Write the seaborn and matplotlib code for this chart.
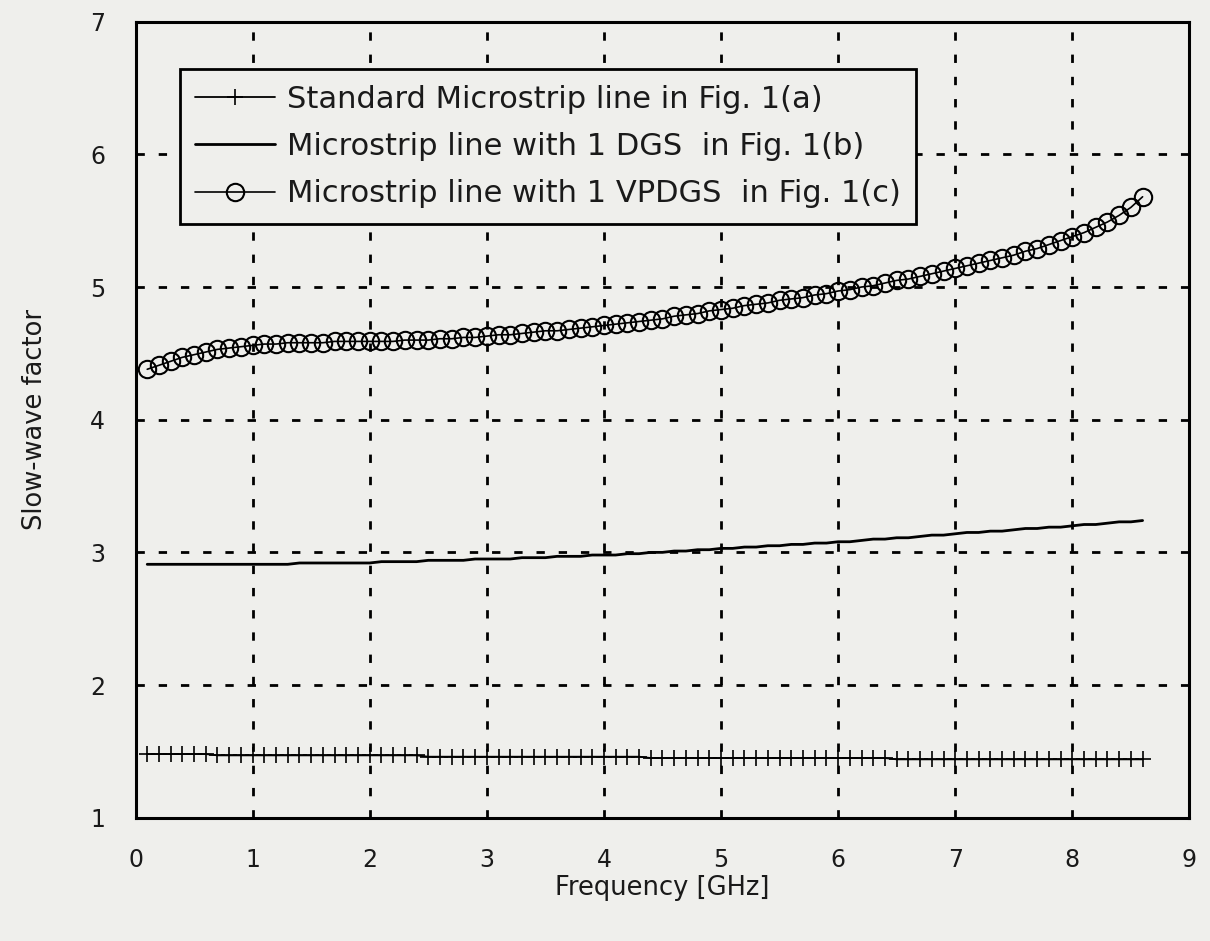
import numpy as np
import pandas as pd
import matplotlib
matplotlib.use("Agg")
import matplotlib.pyplot as plt
import seaborn as sns

# frequency samples [GHz]
freq_ghz = [0.1, 0.2, 0.3, 0.4, 0.5, 0.6, 0.7, 0.8, 0.9, 1.0,
            1.1, 1.2, 1.3, 1.4, 1.5, 1.6, 1.7, 1.8, 1.9, 2.0,
            2.1, 2.2, 2.3, 2.4, 2.5, 2.6, 2.7, 2.8, 2.9, 3.0,
            3.1, 3.2, 3.3, 3.4, 3.5, 3.6, 3.7, 3.8, 3.9, 4.0,
            4.1, 4.2, 4.3, 4.4, 4.5, 4.6, 4.7, 4.8, 4.9, 5.0,
            5.1, 5.2, 5.3, 5.4, 5.5, 5.6, 5.7, 5.8, 5.9, 6.0,
            6.1, 6.2, 6.3, 6.4, 6.5, 6.6, 6.7, 6.8, 6.9, 7.0,
            7.1, 7.2, 7.3, 7.4, 7.5, 7.6, 7.7, 7.8, 7.9, 8.0,
            8.1, 8.2, 8.3, 8.4, 8.5, 8.6]

# slow-wave factor, standard microstrip line (Fig. 1(a))
sw_standard = [1.48, 1.48, 1.48, 1.48, 1.48, 1.48, 1.47, 1.47, 1.47, 1.47,
               1.47, 1.47, 1.47, 1.47, 1.47, 1.47, 1.47, 1.47, 1.47, 1.47,
               1.47, 1.47, 1.47, 1.47, 1.46, 1.46, 1.46, 1.46, 1.46, 1.46,
               1.46, 1.46, 1.46, 1.46, 1.46, 1.46, 1.46, 1.46, 1.46, 1.46,
               1.46, 1.46, 1.46, 1.45, 1.45, 1.45, 1.45, 1.45, 1.45, 1.45,
               1.45, 1.45, 1.45, 1.45, 1.45, 1.45, 1.45, 1.45, 1.45, 1.45,
               1.45, 1.45, 1.45, 1.45, 1.44, 1.44, 1.44, 1.44, 1.44, 1.44,
               1.44, 1.44, 1.44, 1.44, 1.44, 1.44, 1.44, 1.44, 1.44, 1.44,
               1.44, 1.44, 1.44, 1.44, 1.44, 1.44]

# with 1 DGS (Fig. 1(b))
sw_dgs = [2.91, 2.91, 2.91, 2.91, 2.91, 2.91, 2.91, 2.91, 2.91, 2.91,
          2.91, 2.91, 2.91, 2.92, 2.92, 2.92, 2.92, 2.92, 2.92, 2.92,
          2.93, 2.93, 2.93, 2.93, 2.94, 2.94, 2.94, 2.94, 2.95, 2.95,
          2.95, 2.95, 2.96, 2.96, 2.96, 2.97, 2.97, 2.97, 2.98, 2.98,
          2.98, 2.99, 2.99, 3.00, 3.00, 3.01, 3.01, 3.02, 3.02, 3.03,
          3.03, 3.04, 3.04, 3.05, 3.05, 3.06, 3.06, 3.07, 3.07, 3.08,
          3.08, 3.09, 3.10, 3.10, 3.11, 3.11, 3.12, 3.13, 3.13, 3.14,
          3.15, 3.15, 3.16, 3.16, 3.17, 3.18, 3.18, 3.19, 3.19, 3.20,
          3.21, 3.21, 3.22, 3.23, 3.23, 3.24]

# with 1 VPDGS (Fig. 1(c))
sw_vpdgs = [4.38, 4.41, 4.44, 4.47, 4.49, 4.51, 4.53, 4.54, 4.55, 4.56,
            4.57, 4.57, 4.58, 4.58, 4.58, 4.58, 4.59, 4.59, 4.59, 4.59,
            4.59, 4.59, 4.60, 4.60, 4.60, 4.61, 4.61, 4.62, 4.62, 4.63,
            4.64, 4.64, 4.65, 4.66, 4.67, 4.67, 4.68, 4.69, 4.70, 4.71,
            4.72, 4.73, 4.74, 4.75, 4.76, 4.78, 4.79, 4.80, 4.82, 4.83,
            4.84, 4.86, 4.87, 4.88, 4.90, 4.91, 4.92, 4.94, 4.95, 4.97,
            4.98, 5.00, 5.01, 5.03, 5.05, 5.06, 5.08, 5.10, 5.12, 5.14,
            5.16, 5.18, 5.20, 5.22, 5.24, 5.27, 5.29, 5.32, 5.35, 5.38,
            5.41, 5.45, 5.49, 5.54, 5.60, 5.68]

labels = ["Standard Microstrip line in Fig. 1(a)",
          "Microstrip line with 1 DGS  in Fig. 1(b)",
          "Microstrip line with 1 VPDGS  in Fig. 1(c)"]

x_ticks = [0, 1, 2, 3, 4, 5, 6, 7, 8, 9]
y_ticks = [1, 2, 3, 4, 5, 6, 7]

df = pd.DataFrame({"freq": freq_ghz, "std": sw_standard,
                   "dgs": sw_dgs, "vpdgs": sw_vpdgs})

sns.set_style("ticks")
plt.rcParams["font.family"] = ["DejaVu Sans"]

paper = "#efefec"
ink = "#1a1a1a"
fig = plt.figure(figsize=(12.1, 9.41), dpi=100, facecolor=paper)
ax = fig.add_axes([0.112, 0.131, 0.871, 0.846])
ax.set_facecolor(paper)

sns.lineplot(data=df, x="freq", y="std", ax=ax, color="black", lw=1.3,
             marker="+", markersize=11, markeredgewidth=1.2,
             markeredgecolor="black", label=labels[0])
sns.lineplot(data=df, x="freq", y="dgs", ax=ax, color="black", lw=2.0,
             label=labels[1])
sns.lineplot(data=df, x="freq", y="vpdgs", ax=ax, color="black", lw=1.2,
             marker="o", markersize=12.5, markerfacecolor="none",
             markeredgecolor="black", markeredgewidth=1.5, label=labels[2])

ax.set_xlim(0, 9)
ax.set_ylim(1, 7)
ax.set_xticks(x_ticks)
ax.set_yticks(y_ticks)
ax.grid(True, color="black", linestyle=(0, (3, 5)), linewidth=2.0)
ax.tick_params(length=0, labelsize=17, pad=22, labelcolor=ink)
for s in ax.spines.values():
    s.set_linewidth(2.2)
    s.set_color("black")

ax.set_xlabel("Frequency [GHz]", fontsize=18.5, labelpad=2, color=ink)
ax.set_ylabel("Slow-wave factor", fontsize=18.5, labelpad=30, color=ink)

leg = ax.legend(loc="upper left", bbox_to_anchor=(0.042, 0.94), fontsize=22,
                frameon=True, fancybox=False, edgecolor="black",
                facecolor=paper, framealpha=1, handlelength=2.6,
                handletextpad=0.4, borderpad=0.5, labelspacing=0.6,
                borderaxespad=0)
leg.get_frame().set_linewidth(2.0)
for t in leg.get_texts():
    t.set_color(ink)

fig.savefig("out.png", dpi=100, facecolor=paper)
